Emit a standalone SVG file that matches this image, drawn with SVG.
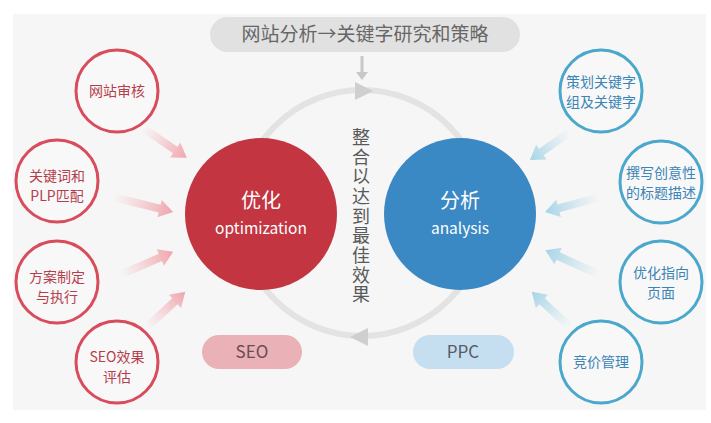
<svg xmlns="http://www.w3.org/2000/svg" width="711" height="423" viewBox="0 0 711 423">
<defs>
<linearGradient id="gr" x1="0" y1="0" x2="1" y2="0"><stop offset="0" stop-color="#f4b6bc" stop-opacity="0"/><stop offset="1" stop-color="#f0a4ac"/></linearGradient>
<linearGradient id="gb" x1="0" y1="0" x2="1" y2="0"><stop offset="0" stop-color="#b6dcea" stop-opacity="0"/><stop offset="1" stop-color="#a6d4e6"/></linearGradient>
</defs>
<style>
.t{font-family:"Noto Sans CJK SC","Noto Sans",sans-serif;text-anchor:middle}
.sr{fill:#f8f8f8;stroke:#d84c5c;stroke-width:3}
.sb{fill:#f8f8f8;stroke:#4ba7cc;stroke-width:3}
.tr{fill:#b53e4c;font-size:14px}
.tb{fill:#3b84b5;font-size:14px}
.w{fill:#ffffff}
.v{font-family:"Noto Sans CJK SC",sans-serif;font-size:18px;fill:#5a5a5a;writing-mode:vertical-rl;letter-spacing:1.7px}
</style>
<rect x="0" y="0" width="711" height="423" fill="#ffffff"/>
<rect x="13" y="14" width="693" height="396" fill="#f6f6f6"/>
<g id="ring">
<circle cx="362" cy="213" r="123" fill="none" stroke="#e3e3e3" stroke-width="6"/>
<polygon points="355,82 373,91 355,100" fill="#cfcfcf"/>
<polygon points="368,328 350,337 368,346" fill="#cfcfcf"/>
</g>
<g id="title">
<rect x="210" y="17" width="310" height="35" rx="17.5" fill="#e1e1e1"/>
<text class="t" x="365" y="41" font-size="19" fill="#666666">网站分析→关键字研究和策略</text>
</g>
<g id="connectors">
<line x1="362" y1="56" x2="362" y2="74" stroke="#c8c8c8" stroke-width="3"/>
<polygon points="356,72 368,72 362,80" fill="#c8c8c8"/>
<path transform="translate(143,128) rotate(34.3)" d="M0,-4 L39,-4 L39,-9 L53,0 L39,9 L39,4 L0,4 Z" fill="url(#gr)"/>
<path transform="translate(113,197) rotate(14)" d="M0,-4 L48,-4 L48,-9 L62,0 L48,9 L48,4 L0,4 Z" fill="url(#gr)"/>
<path transform="translate(120,275) rotate(-23.5)" d="M0,-4 L44,-4 L44,-9 L58,0 L44,9 L44,4 L0,4 Z" fill="url(#gr)"/>
<path transform="translate(147,327) rotate(-42.6)" d="M0,-4 L38,-4 L38,-9 L52,0 L38,9 L38,4 L0,4 Z" fill="url(#gr)"/>
<path transform="translate(570,132) rotate(145)" d="M0,-4 L35,-4 L35,-9 L49,0 L35,9 L35,4 L0,4 Z" fill="url(#gb)"/>
<path transform="translate(600,197) rotate(164.7)" d="M0,-4 L43,-4 L43,-9 L57,0 L43,9 L43,4 L0,4 Z" fill="url(#gb)"/>
<path transform="translate(600,275) rotate(204.4)" d="M0,-4 L46,-4 L46,-9 L60,0 L46,9 L46,4 L0,4 Z" fill="url(#gb)"/>
<path transform="translate(570,327) rotate(222.6)" d="M0,-4 L38,-4 L38,-9 L52,0 L38,9 L38,4 L0,4 Z" fill="url(#gb)"/>
</g>
<g id="center-text">
<text class="v" x="361" y="128">整合以达到最佳效果</text>
</g>
<g id="seo-main">
<circle cx="261" cy="214" r="76" fill="#c23541"/>
<text class="t w" x="261" y="208" font-size="20">优化</text>
<text class="t w" x="261" y="234" font-size="15.5">optimization</text>
</g>
<g id="ppc-main">
<circle cx="460" cy="214" r="76" fill="#3a88c4"/>
<text class="t w" x="460" y="208" font-size="20">分析</text>
<text class="t w" x="460" y="234" font-size="15.5">analysis</text>
</g>
<g id="n-audit"><circle class="sr" cx="117" cy="91" r="41"/><text class="t tr" x="117" y="96">网站审核</text></g>
<g id="n-plp"><circle class="sr" cx="57" cy="181" r="41"/><text class="t tr" x="57" y="181">关键词和</text><text class="t tr" x="57" y="201">PLP匹配</text></g>
<g id="n-plan"><circle class="sr" cx="57" cy="282" r="41"/><text class="t tr" x="57" y="282">方案制定</text><text class="t tr" x="57" y="302">与执行</text></g>
<g id="n-eval"><circle class="sr" cx="117" cy="362" r="41"/><text class="t tr" x="117" y="362">SEO效果</text><text class="t tr" x="117" y="382">评估</text></g>
<g id="n-group"><circle class="sb" cx="601" cy="91" r="41"/><text class="t tb" x="601" y="87">策划关键字</text><text class="t tb" x="601" y="107">组及关键字</text></g>
<g id="n-write"><circle class="sb" cx="661" cy="182" r="41"/><text class="t tb" x="661" y="178">撰写创意性</text><text class="t tb" x="661" y="198">的标题描述</text></g>
<g id="n-page"><circle class="sb" cx="661" cy="282" r="41"/><text class="t tb" x="661" y="278">优化指向</text><text class="t tb" x="661" y="298">页面</text></g>
<g id="n-bid"><circle class="sb" cx="601" cy="362" r="41"/><text class="t tb" x="601" y="367">竞价管理</text></g>
<g id="pill-seo"><rect x="202" y="335" width="100" height="34" rx="17" fill="#eab1b7"/><text class="t" x="252" y="358" font-size="17" fill="#6a4c54">SEO</text></g>
<g id="pill-ppc"><rect x="413" y="335" width="101" height="34" rx="17" fill="#c6dff0"/><text class="t" x="463" y="358" font-size="17" fill="#555c66">PPC</text></g>
</svg>
